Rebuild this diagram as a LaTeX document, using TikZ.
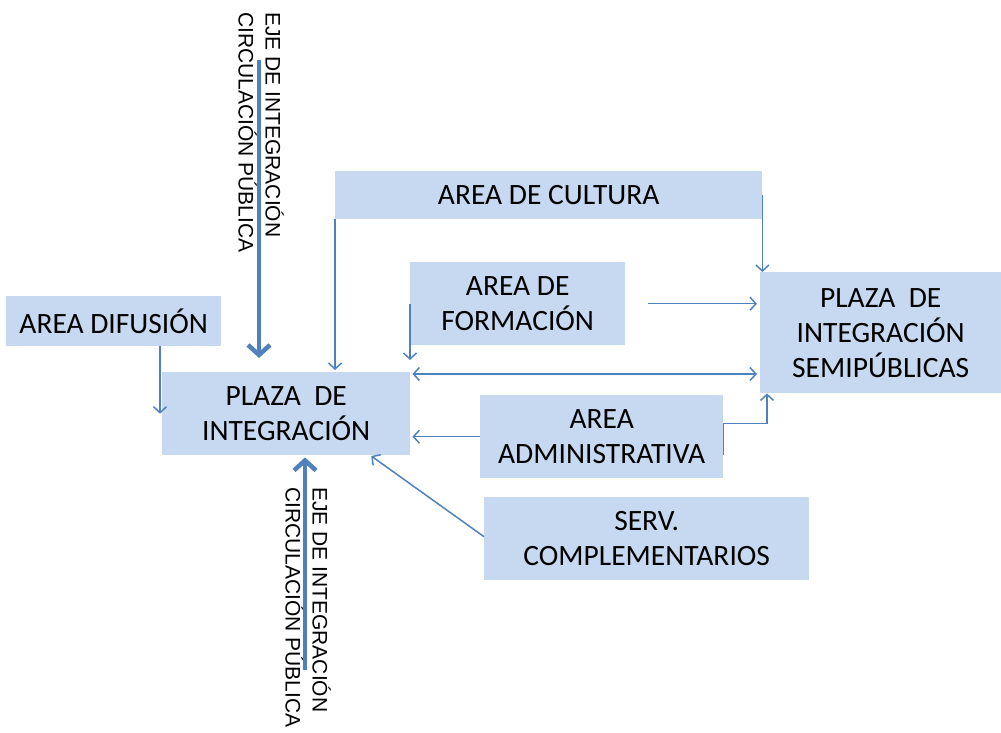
\documentclass[tikz,border=0pt]{standalone}
\usepackage{fontspec}
\setmainfont{Carlito}
\newfontfamily\arialf{Liberation Sans}
\usetikzlibrary{arrows.meta,calc}
\definecolor{boxfill}{HTML}{C6D9F1}
\definecolor{arrowblue}{HTML}{4F81BD}
\tikzset{
  box/.style={fill=boxfill, draw=none, anchor=north west, inner sep=0pt, align=center,
    font=\fontsize{29.5}{35}\selectfont},
  arr/.style={draw=arrowblue, line width=1.5pt, -{Straight Barb[length=6pt,width=13pt,line width=1.5pt]}},
  darr/.style={draw=arrowblue, line width=1.5pt, {Straight Barb[length=6pt,width=13pt,line width=1.5pt]}-{Straight Barb[length=6pt,width=13pt,line width=1.5pt]}},
  thick arr/.style={draw=arrowblue, line width=4.5pt, -{Straight Barb[length=10pt,width=22pt,line width=4.5pt]}},
  vtext/.style={rotate=-90, anchor=north west, inner sep=0pt, align=left,
    font=\arialf\fontsize{21}{27}\selectfont}
}
\begin{document}
\begin{tikzpicture}[x=1pt,y=-1pt]
\useasboundingbox (0,0) rectangle (1001,733);
% boxes
\node[box, minimum width=427pt, minimum height=48pt] (cult) at (335,171) {AREA DE CULTURA};
\node[box, minimum width=215pt, minimum height=83pt] (form) at (410,262) {AREA DE\\FORMACIÓN};
\node[box, minimum width=241pt, minimum height=121pt] (semi) at (760,272) {PLAZA\ \ DE\\INTEGRACIÓN\\SEMIPÚBLICAS};
\node[box, minimum width=215pt, minimum height=50pt] (dif) at (6,296) {AREA DIFUSIÓN};
\node[box, minimum width=248pt, minimum height=83pt] (plaza) at (162,372) {PLAZA\ \ DE\\INTEGRACIÓN};
\node[box, minimum width=243pt, minimum height=83pt] (adm) at (480,395) {AREA\\ADMINISTRATIVA};
\node[box, minimum width=325pt, minimum height=83pt] (serv) at (484,497) {SERV.\\COMPLEMENTARIOS};
% vertical texts
\node[vtext] (vt1) at (284,12) {EJE DE INTEGRACIÓN\\CIRCULACIÓN PÚBLICA};
\node[vtext] (vt2) at (331,487) {EJE DE INTEGRACIÓN\\CIRCULACIÓN PÚBLICA};
% thick arrows
\coordinate (t1) at (259,60);
\coordinate (b1) at (305,670);
\draw[thick arr, shorten >=14pt] (t1) -- (t1 |- plaza.north);
\draw[thick arr, shorten >=2pt] (b1) -- (b1 |- plaza.south);
% thin arrows
\draw[arr, shorten >=2pt] (cult.south west) -- (cult.south west |- plaza.north);
\draw[arr] (cult.east) -- (cult.east |- semi.north);
\draw[arr, shorten >=12pt] (form.west) -- (form.west |- plaza.north);
\draw[arr, shorten <=23pt, shorten >=3pt] (form.east) -- (form.east -| semi.west);
\draw[darr, shorten <=2pt, shorten >=3pt] ([yshift=-2pt]plaza.north east) -- ([yshift=-2pt]plaza.north east -| semi.west);
\draw[arr, shorten >=2pt] (adm.west) -- (adm.west -| plaza.east);
\draw[arr] ([yshift=-18pt]adm.east) -- ++(0,-31) -| ([xshift=7pt]semi.south west);
\coordinate (sp) at ([xshift=-40pt]plaza.south east);
\draw[arr, shorten >=1pt] ([yshift=2pt]serv.west) -- (sp);
\coordinate (dd) at ([xshift=154pt]dif.south west);
\draw[arr] (dd) -- (dd |- plaza.west);
\end{tikzpicture}
\end{document}
